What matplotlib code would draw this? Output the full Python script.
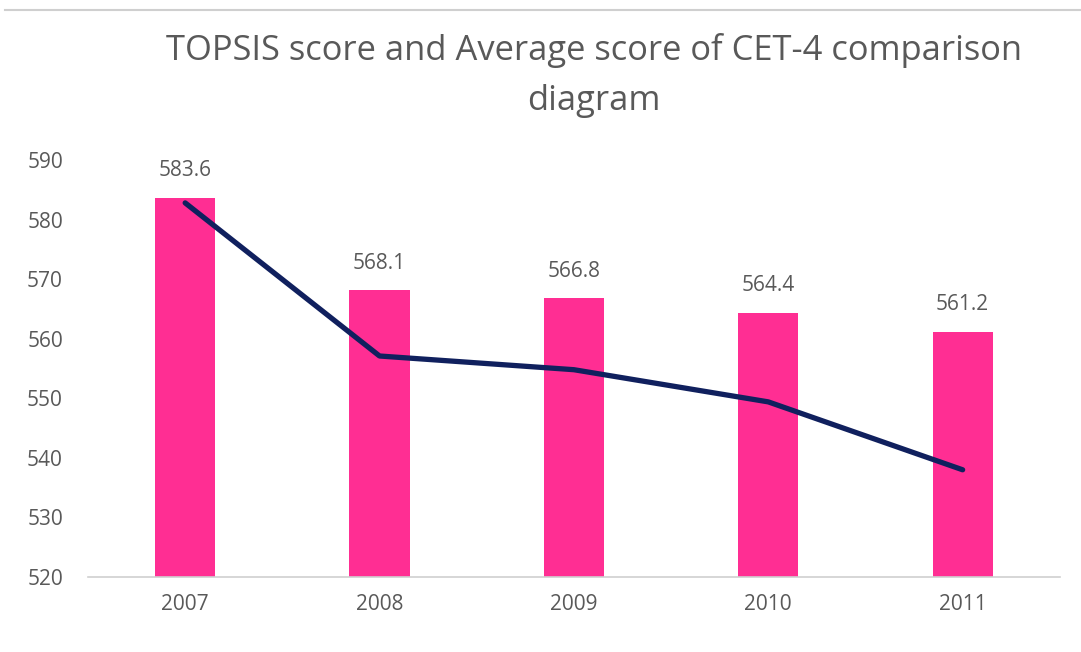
import matplotlib.pyplot as plt
from matplotlib.lines import Line2D
import numpy as np

# data
years = ["2007", "2008", "2009", "2010", "2011"]
topsis_scores = [583.6, 568.1, 566.8, 564.4, 561.2]
cet4_average = [582.8, 557.1, 554.8, 549.4, 538.0]
y_ticks = [520, 530, 540, 550, 560, 570, 580, 590]

plt.rcParams['font.family'] = ['Open Sans', 'DejaVu Sans']
text_gray = "#595959"

fig = plt.figure(figsize=(10.81, 6.52), dpi=100)
ax = fig.add_axes([0.0814, 0.115, 0.899, 0.6396])

x = np.arange(len(years))
ax.bar(x, topsis_scores, width=0.31, color="#FF2E93", zorder=2)
ax.plot(x, cet4_average, color="#10205E", linewidth=3.8,
        solid_capstyle="round", solid_joinstyle="round", zorder=3)

for xi, v in zip(x, topsis_scores):
    ax.annotate(f"{v:.1f}", (xi, v), xytext=(0, 12), textcoords="offset points",
                ha="center", va="bottom", fontsize=15, color=text_gray)

ax.set_xlim(-0.5, len(years) - 0.5)
ax.set_ylim(520, 590)
ax.set_xticks(x, years)
ax.set_yticks(y_ticks)
ax.tick_params(axis="both", length=0, labelsize=15, colors=text_gray)
ax.tick_params(axis="y", pad=18)
ax.tick_params(axis="x", pad=12)

for side in ["top", "right", "left"]:
    ax.spines[side].set_visible(False)
ax.spines["bottom"].set_color("#D0D0D0")
ax.spines["bottom"].set_linewidth(1.2)

fig.suptitle("TOPSIS score and Average score of CET-4 comparison\ndiagram",
             x=0.5495, y=0.949, fontsize=24.8, color=text_gray, linespacing=1.6)

# thin rule along the top edge
fig.add_artist(Line2D([0.005, 1.0], [0.985, 0.985], transform=fig.transFigure,
                      color="#CFCFCF", linewidth=1.5))

fig.savefig("out.png", dpi=100)
